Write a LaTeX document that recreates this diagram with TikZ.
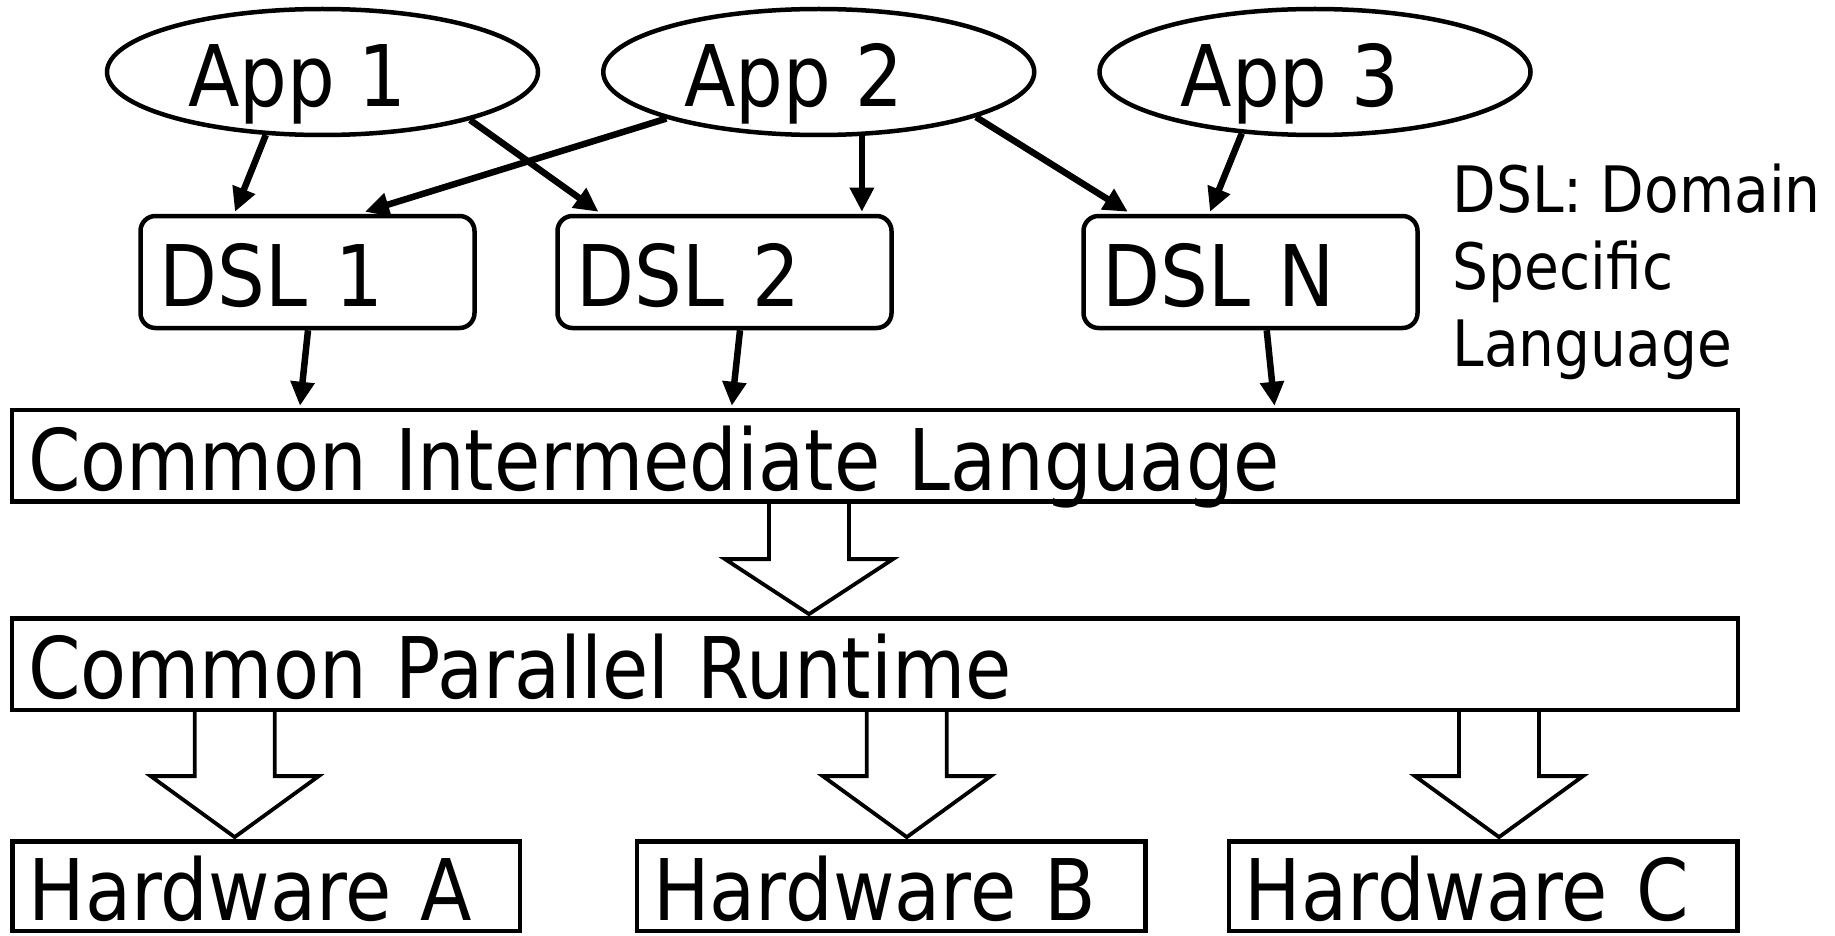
\documentclass[tikz,border=0pt]{standalone}
\usepackage{fontspec}
\setmainfont{DejaVu Sans}[FakeStretch=0.885]
\usetikzlibrary{shapes.geometric,arrows.meta,calc}
\tikzset{
  bigfont/.style={font=\fontsize{85}{100}\selectfont},
  app/.style={ellipse, draw, line width=4.5pt, minimum width=431pt, minimum height=126pt,
    inner sep=0pt, bigfont, text height=69pt, text depth=0pt},
  dslbox/.style={rectangle, rounded corners=15pt, draw, line width=4.5pt, minimum height=112pt,
    text width=296pt, inner xsep=19pt, inner ysep=0pt, align=left, bigfont,
    text height=69pt, text depth=0pt},
  layer/.style={rectangle, draw, line width=4.5pt, inner xsep=16pt, inner ysep=0pt,
    align=left, bigfont, text height=69pt, text depth=0pt},
  conn/.style={line width=6.5pt, -{Triangle[length=24pt,width=23pt]}},
  hollowline/.style={line width=3.8pt, line join=miter},
}
\newcommand\hollowarrow[4]{%
  \draw[hollowline] ($(#1.south -| #3)+(-40,0)$)
    -- ($(#2.north -| #3)+(-40,-#4)$)
    -- ($(#2.north -| #3)+(-84,-#4)$)
    -- ($(#2.north -| #3)+(0,-2)$)
    -- ($(#2.north -| #3)+(84,-#4)$)
    -- ($(#2.north -| #3)+(40,-#4)$)
    -- ($(#1.south -| #3)+(40,0)$);}
\begin{document}
\begin{tikzpicture}[x=1pt,y=-1pt]
\useasboundingbox (0,0) rectangle (1835,936);

% applications
\node[app] (app1) at (322.5,72) {App 1\hspace*{50pt}};
\node[app] (app2) at (818.75,72) {App 2\hspace*{50pt}};
\node[app] (app3) at (1315,72) {App 3\hspace*{50pt}};

% DSLs
\node[dslbox] (dsl1) at (307.5,272) {DSL 1};
\node[dslbox] (dsl2) at (724.5,272) {DSL 2};
\node[dslbox] (dsln) at (1250.5,272) {DSL N};

% note
\node[anchor=north west, inner sep=0pt, align=left,
      font=\fontsize{64}{77}\selectfont] (note) at (1452.5,163.5)
  {DSL: Domain\\Specific\\Language};

% layers
\node[layer, text width=1694pt, minimum height=91.5pt] (cil) at (875,455.8)
  {Common Intermediate Language};
\node[layer, text width=1694pt, minimum height=91.5pt] (cpr) at (875,664.1)
  {Common Parallel Runtime};

% hardware
\node[layer, text width=475.4pt, minimum height=89.7pt] (hwa) at (266.3,886.2) {Hardware A};
\node[layer, text width=476.5pt, minimum height=89.7pt] (hwb) at (891.25,886.2) {Hardware B};
\node[layer, text width=476.8pt, minimum height=89.7pt] (hwc) at (1483.2,886.2) {Hardware C};

% connectors app -> dsl
\draw[conn] (app1.228) -- ($(dsl1.north)+(-72.5,-2)$);
\draw[conn] (app1.342) -- ($(dsl2.north)+(-126,-2)$);
\draw[conn] (app2.197) -- ($(dsl1.north)+(57.5,-2)$);
\draw[conn] (app2.304) -- ($(app2.304 |- dsl2.north)+(0,-2)$);
\draw[conn] (app2.344) -- ($(dsln.north)+(-122.7,-2)$);
\draw[conn] (app3.220) -- ($(dsln.north)+(-40.5,-2)$);

% dsl -> cil
\draw[conn] ($(dsl1.south)+(0.5,0)$) -- ($(cil.north)+(-575,-2)$);
\draw[conn] ($(dsl2.south)+(15.5,0)$) -- ($(cil.north)+(-143.2,-2)$);
\draw[conn] ($(dsln.south)+(16.2,0)$) -- ($(cil.north)+(399.5,-2)$);

% hollow arrows
\coordinate (hx1) at (809,0);
\coordinate (hxa) at (234.7,0);
\coordinate (hxb) at (906.8,0);
\coordinate (hxc) at (1499,0);
\hollowarrow{cil}{cpr}{hx1}{57}
\hollowarrow{cpr}{hwa}{hxa}{63}
\hollowarrow{cpr}{hwb}{hxb}{63}
\hollowarrow{cpr}{hwc}{hxc}{63}
\end{tikzpicture}
\end{document}
